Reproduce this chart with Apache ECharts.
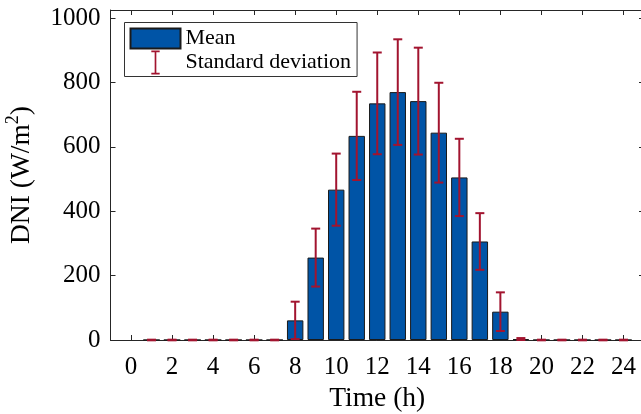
<!DOCTYPE html>
<html>
<head>
<meta charset="utf-8">
<script src="https://cdn.jsdelivr.net/npm/echarts@6/dist/echarts.min.js"></script>
<style>
html,body{margin:0;padding:0;background:#fff;}
#chart{width:641px;height:414px;}
</style>
</head>
<body>
<div id="chart"></div>
<script>
// ---- data ----
const hours = [1,2,3,4,5,6,7,8,9,10,11,12,13,14,15,16,17,18,19,20,21,22,23,24];
const meanDNI = [0,0,0,0,0,0,0,61,256,467,634,735,770,742,644,505,306,88,3,0,0,0,0,0];
const stdDNI  = [1,1,1,1,1,1,1,58,90,112,137,158,164,166,155,120,88,60,3,1,1,1,1,1];
const xCategories = ['-1','0','1','2','3','4','5','6','7','8','9','10','11','12','13','14','15','16','17','18','19','20','21','22','23','24','25'];
const yTicks = [0,200,400,600,800,1000];

const FONT = 'Liberation Serif';
const AX = '#262626';

const barData = hours.map((h,i)=>[xCategories.indexOf(String(h)), meanDNI[i]]);
const errData = hours.map((h,i)=>[xCategories.indexOf(String(h)), meanDNI[i], stdDNI[i]]);

const tickFn = (idx) => { const v = Number(xCategories[idx]); return v >= 0 && v <= 24 && v % 2 === 0; };

const chart = echarts.init(document.getElementById('chart'), null, {renderer:'canvas'});
const option = {
  animation: false,
  backgroundColor: '#fff',
  textStyle: {fontFamily: FONT},
  grid: {left: 110.5, top: 10, width: 533.5, height: 330, containLabel: false, outerBoundsMode: 'none'},
  legend: {
    orient: 'vertical',
    left: 124.5, top: 22.5,
    padding: [5, 6, 2, 5],
    itemGap: 1,
    itemWidth: 50, itemHeight: 24,
    backgroundColor: '#fff',
    borderColor: '#333', borderWidth: 1,
    textStyle: {fontFamily: FONT, fontSize: 22, color: '#000'},
    data: [
      {name: 'Mean', icon: 'path://M0,0h50v20h-50z'},
      {name: 'Standard deviation', icon: 'path://M0,0h8v1.6h-3.2v19.8h3.2v1.6h-8v-1.6h3.2v-19.8h-3.2z', itemStyle:{color:'#A2142F'}}
    ]
  },
  xAxis: [{
    type: 'category', data: xCategories, boundaryGap: false, position: 'bottom',
    name: 'Time (h)', nameLocation: 'middle', nameGap: 45,
    nameTextStyle: {fontFamily: FONT, fontSize: 27.5, color: '#000'},
    axisLine: {show: true, onZero: false, lineStyle: {color: AX, width: 1}},
    axisTick: {show: true, inside: true, length: 5, interval: tickFn, lineStyle: {color: AX}},
    axisLabel: {interval: tickFn, margin: 15, fontFamily: FONT, fontSize: 25, color: '#000'},
    splitLine: {show: false}
  },{
    type: 'category', data: xCategories, boundaryGap: false, position: 'top',
    axisLine: {show: true, onZero: false, lineStyle: {color: AX, width: 1}},
    axisTick: {show: true, inside: true, length: 5, interval: tickFn, lineStyle: {color: AX}},
    axisLabel: {show: false}, splitLine: {show: false}
  }],
  yAxis: [{
    type: 'value', min: 0, max: 1025, interval: 200, position: 'left',
    name: 'DNI (W/m{sup|2})', nameLocation: 'middle', nameGap: 72, nameRotate: 90,
    nameTextStyle: {fontFamily: FONT, fontSize: 27.5, color: '#000', lineHeight: 34,
      rich: {sup: {fontFamily: FONT, fontSize: 18, color: '#000', verticalAlign: 'top', lineHeight: 34}}},
    axisLine: {show: true, onZero: false, lineStyle: {color: AX, width: 1}},
    axisTick: {show: true, inside: true, length: 5, lineStyle: {color: AX}},
    axisLabel: {margin: 10, fontFamily: FONT, fontSize: 25, color: '#000', showMaxLabel: false,
      formatter: v => yTicks.includes(v) ? String(v) : ''},
    splitLine: {show: false}
  },{
    type: 'value', min: 0, max: 1025, interval: 200, position: 'right',
    axisLine: {show: true, onZero: false, lineStyle: {color: AX, width: 1}},
    axisTick: {show: true, inside: true, length: 5, lineStyle: {color: AX}},
    axisLabel: {show: false}, splitLine: {show: false}
  }],
  series: [{
    name: 'Mean', type: 'bar', xAxisIndex: 0, yAxisIndex: 0,
    data: barData, barWidth: '80%',
    itemStyle: {color: '#0054A6', borderColor: '#1a1a1a', borderWidth: 1},
    z: 2
  },{
    name: 'Standard deviation', type: 'custom', xAxisIndex: 0, yAxisIndex: 0,
    data: errData, encode: {x: 0, y: 1},
    itemStyle: {color: '#A2142F'},
    z: 3,
    renderItem: function(params, api){
      const x = api.value(0), m = api.value(1), s = api.value(2);
      const top = api.coord([x, m + s]);
      const bot = api.coord([x, m - s]);
      const hw = 4.5;
      const st = {stroke: '#A2142F', lineWidth: 2, fill: null};
      return {type: 'group', children: [
        {type:'line', shape:{x1: top[0], y1: top[1], x2: bot[0], y2: bot[1]}, style: st},
        {type:'line', shape:{x1: top[0]-hw, y1: top[1], x2: top[0]+hw, y2: top[1]}, style: st},
        {type:'line', shape:{x1: bot[0]-hw, y1: bot[1], x2: bot[0]+hw, y2: bot[1]}, style: st}
      ]};
    }
  }]
};
chart.setOption(option);
</script>
</body>
</html>
